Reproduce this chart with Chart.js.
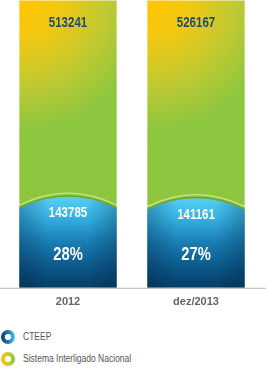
<!DOCTYPE html>
<html>
<head>
<meta charset="utf-8">
<script src="https://cdn.jsdelivr.net/npm/chart.js@4/dist/chart.umd.min.js"></script>
<style>
  html, body { margin: 0; padding: 0; background: #fff; }
  body { width: 266px; height: 370px; position: relative; overflow: hidden;
         font-family: 'Liberation Sans', Arial, sans-serif; }
  #wrap { position: absolute; left: 0; top: 0; width: 266px; height: 317px; }
  .legend { position: absolute; left: 1px; font-size: 10px; color: #555; line-height: 14px; white-space: nowrap; }
  .legend .txt { display: inline-block; transform: scaleX(0.85); transform-origin: left center; vertical-align: middle; }
  .legend span.ring { display: inline-block; width: 14px; height: 14px; border-radius: 50%;
         vertical-align: middle; margin-right: 8px; }
  .ring.blue { background: radial-gradient(circle, #fff 0 2.8px, transparent 3.4px),
                linear-gradient(90deg, #063d68, #1a7fb8 55%, #4fcdf3); }
  .ring.green { background: radial-gradient(circle, #fff 0 2.8px, transparent 3.4px),
                linear-gradient(90deg, #ffc400, #c6cb2c 55%, #8cc63f); }
</style>
</head>
<body>
<div id="wrap"><canvas id="chart"></canvas></div>
<div class="legend" style="top:330px"><span class="ring blue"></span><span class="txt">CTEEP</span></div>
<div class="legend" style="top:352px"><span class="ring green"></span><span class="txt">Sistema Interligado Nacional</span></div>
<script>
const categories = ['2012', 'dez/2013'];
const cteepValues = [143785, 141161];
const sinValues = [513241, 526167];
const cteepShare = ['28%', '27%'];

const FONT = "'Liberation Sans', Arial, sans-serif";

// narrow text: the original uses a condensed face
function narrowText(c, text, x, y, font, color) {
    c.save();
    c.font = font;
    c.fillStyle = color;
    c.textAlign = 'center';
    c.textBaseline = 'middle';
    c.translate(x, y);
    c.scale(0.82, 1);
    c.fillText(text, 0, 0);
    c.restore();
}

// green bars, blue dome bars and the value labels are painted here from the bar elements
const barPainter = {
    id: 'barPainter',
    afterDatasetsDraw(chart) {
        const c = chart.ctx;
        const area = chart.chartArea;
        const blue = chart.getDatasetMeta(0).data;
        const green = chart.getDatasetMeta(1).data;

        c.save();
        c.beginPath();
        c.rect(0, 0, chart.width, area.bottom);
        c.clip();

        green.forEach((el, i) => {
            const left = el.x - el.width / 2;
            const top = Math.max(el.y, area.top);
            const g = c.createRadialGradient(left + 4, top + 2, 0, left + 4, top + 2, 150);
            g.addColorStop(0, '#ffc600');
            g.addColorStop(0.25, '#f0c813');
            g.addColorStop(0.55, '#c0c931');
            g.addColorStop(0.85, '#8dc63f');
            g.addColorStop(1, '#8cc63f');
            c.fillStyle = g;
            c.fillRect(left, top, el.width, el.base - top);

            c.fillStyle = 'rgba(255,255,255,0.5)';
            c.fillRect(left, top, el.width, 1);

            narrowText(c, sinValues[i].toString(), el.x, top + 23, 'bold 14px ' + FONT, '#1d4e7a');
        });

        blue.forEach((el, i) => {
            const left = el.x - el.width / 2;
            const right = el.x + el.width / 2;
            const edge = el.y + 1;
            const ctrl = el.y - 22;

            // soft shadow and highlight above the dome
            c.beginPath();
            c.moveTo(left, edge - 3);
            c.quadraticCurveTo(el.x, ctrl - 4, right, edge - 3);
            c.strokeStyle = 'rgba(255,255,210,0.55)';
            c.lineWidth = 1.2;
            c.stroke();

            c.beginPath();
            c.moveTo(left, edge);
            c.quadraticCurveTo(el.x, ctrl, right, edge);
            c.strokeStyle = 'rgba(60,110,20,0.35)';
            c.lineWidth = 3;
            c.stroke();

            c.beginPath();
            c.moveTo(left, el.base);
            c.lineTo(left, edge);
            c.quadraticCurveTo(el.x, ctrl, right, edge);
            c.lineTo(right, el.base);
            c.closePath();

            const g = c.createLinearGradient(0, el.y - 11, 0, el.base);
            g.addColorStop(0, '#58d0f5');
            g.addColorStop(0.22, '#36b2e4');
            g.addColorStop(0.5, '#1a7db4');
            g.addColorStop(0.78, '#0b5788');
            g.addColorStop(1, '#053d68');
            c.fillStyle = g;
            c.fill();

            const h = c.createLinearGradient(left, 0, right, 0);
            h.addColorStop(0, 'rgba(0,25,55,0.28)');
            h.addColorStop(0.3, 'rgba(0,25,55,0)');
            h.addColorStop(0.7, 'rgba(0,25,55,0)');
            h.addColorStop(1, 'rgba(0,25,55,0.28)');
            c.fillStyle = h;
            c.fill();

            narrowText(c, cteepValues[i].toString(), el.x, el.y + 6, 'bold 14px ' + FONT, '#ffffff');
            narrowText(c, cteepShare[i], el.x, el.base - 33, 'bold 18px ' + FONT, '#ffffff');
        });
        c.restore();

        // baseline across the full width
        c.save();
        c.strokeStyle = '#b8b8b8';
        c.lineWidth = 1;
        c.beginPath();
        c.moveTo(0, area.bottom + 0.5);
        c.lineTo(chart.width, area.bottom + 0.5);
        c.stroke();
        c.restore();
    }
};

new Chart(document.getElementById('chart'), {
    type: 'bar',
    data: {
        labels: categories,
        datasets: [
            { label: 'CTEEP', data: cteepValues, backgroundColor: 'rgba(0,0,0,0)', grouped: false, clip: false },
            { label: 'Sistema Interligado Nacional', data: sinValues, backgroundColor: 'rgba(0,0,0,0)', grouped: false, clip: false }
        ]
    },
    options: {
        responsive: true,
        maintainAspectRatio: false,
        animation: false,
        layout: { padding: { left: 4, right: 6, top: 0, bottom: 0 } },
        barPercentage: 0.76,
        categoryPercentage: 1,
        plugins: { legend: { display: false }, tooltip: { enabled: false } },
        scales: {
            x: {
                grid: { display: false, drawTicks: false },
                border: { display: false },
                ticks: { color: '#666', font: { family: FONT, size: 11, weight: 'bold' }, padding: 8 }
            },
            y: { display: false, min: 0, max: 513241 }
        }
    },
    plugins: [barPainter]
});
</script>
</body>
</html>
